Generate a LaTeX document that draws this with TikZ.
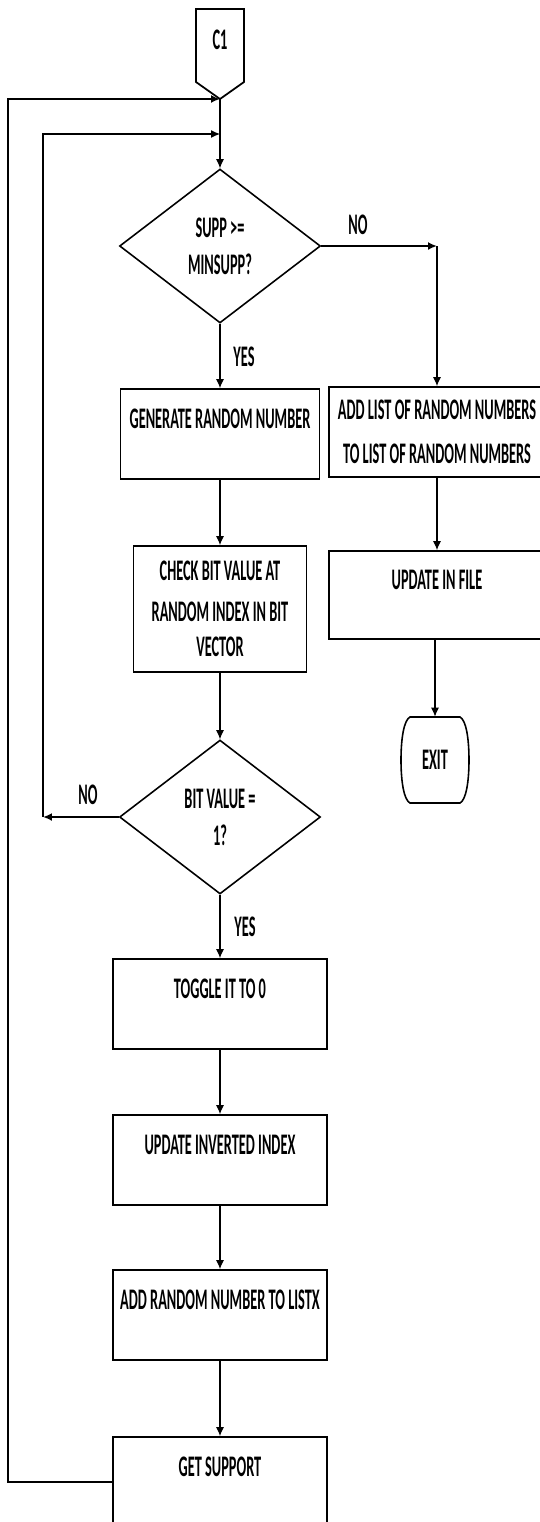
\documentclass[tikz,border=0pt]{standalone}
\usepackage{fontspec}
\usetikzlibrary{arrows.meta, shapes.geometric}
\newfontfamily\flowfont[FakeStretch=0.48]{Carlito}
\newcommand{\flowsize}{\flowfont\bfseries\fontsize{17pt}{20pt}\selectfont}

\tikzset{
  procbox/.style={draw, line width=1pt, align=center, font=\flowsize, minimum height=1.8cm, inner sep=2pt},
  toptext/.style={text height=0.4cm, text depth=0.62cm},
  decision/.style={draw, diamond, line width=0.9pt, align=center, font=\flowsize, minimum width=4.02cm, minimum height=3.08cm, inner sep=0pt},
  flowlbl/.style={font=\flowsize, inner sep=1pt},
  flow/.style={line width=0.6pt, -{Latex[length=1.8mm, width=1.6mm]}},
  flowthick/.style={flow, line width=1pt},
}

\begin{document}
\begin{tikzpicture}[x=0.02cm, y=-0.02cm]
\useasboundingbox (0,0) rectangle (539,1522);

% connector C1
\draw[line width=1pt] (196,9) -- (244,9) -- (244,82) -- (220,99) -- (196,82) -- cycle;
\node[flowlbl] (c1) at (220,40) {C1};
\coordinate (c1tip) at (220,99);

% main column
\node[decision] (supp) at (220,246) {SUPP >=\\[1pt]MINSUPP?};
\node[procbox, toptext, minimum width=3.98cm] (gen) at (220,434) {GENERATE RANDOM NUMBER};
\node[procbox, minimum width=3.46cm, minimum height=2.52cm] (check) at (220,609) {CHECK BIT VALUE AT\\[3pt]RANDOM INDEX IN BIT\\[0pt]VECTOR};
\node[decision] (bitval) at (220,817) {BIT VALUE =\\[1pt]1?};
\node[procbox, toptext, minimum width=4.28cm] (toggle) at (220,1004) {TOGGLE IT TO 0};
\node[procbox, toptext, minimum width=4.28cm] (inverted) at (220,1160) {UPDATE INVERTED INDEX};
\node[procbox, toptext, minimum width=4.28cm] (addx) at (220,1315) {ADD RANDOM NUMBER TO LISTX};
\node[procbox, toptext, minimum width=4.28cm] (support) at (220,1482) {GET SUPPORT};

% right column
\node[procbox, minimum width=4.32cm] (addlist) at (437,432) {ADD LIST OF RANDOM NUMBERS\\[5pt]TO LIST OF RANDOM NUMBERS};
\node[procbox, toptext, minimum width=4.32cm, minimum height=1.76cm] (updfile) at (437,595) {UPDATE IN FILE};
\node[font=\flowsize, minimum width=1.34cm, minimum height=1.72cm] (exit) at (435,760) {EXIT};
% terminator outline, bulging sides
\draw[line width=0.9pt] (410,717) -- (460,717) .. controls (466,720) and (469,738) .. (469,760)
  .. controls (469,782) and (466,800) .. (460,803) -- (410,803)
  .. controls (404,800) and (401,782) .. (401,760) .. controls (401,738) and (404,720) .. (410,717) -- cycle;

% labels
\node[flowlbl] (noa) at (358,225) {NO};
\node[flowlbl] (yesa) at (244,357) {YES};
\node[flowlbl] (nob) at (88,795) {NO};
\node[flowlbl] (yesb) at (245,927) {YES};

% turning points
\coordinate (nopt) at (437,246);
\coordinate (backpt) at (43,817);
\coordinate (loopin) at (220,134);
\coordinate (outerpt) at (8,99);

% connectors
\draw[flow] (c1tip) -- (supp.north);
\draw[flowthick] (supp.east) -- (nopt);
\draw[flow] (nopt) -- (addlist.north);
\draw[flow] (addlist) -- (updfile);
\draw[flow] (updfile.south -| exit.north) -- (exit.north);
\draw[flow] (supp.south) -- (gen.north);
\draw[flow] (gen) -- (check);
\draw[flow] (check) -- (bitval);
\draw[flowthick] (bitval.west) -- (backpt);
\draw[flow] (backpt) |- (loopin);
\draw[flow] (bitval.south) -- (toggle.north);
\draw[flow] (toggle) -- (inverted);
\draw[flow] (inverted) -- (addx);
\draw[flow] (addx) -- (support);
\draw[flowthick] (support.west) -| (outerpt) -- (c1tip);
\end{tikzpicture}
\end{document}
